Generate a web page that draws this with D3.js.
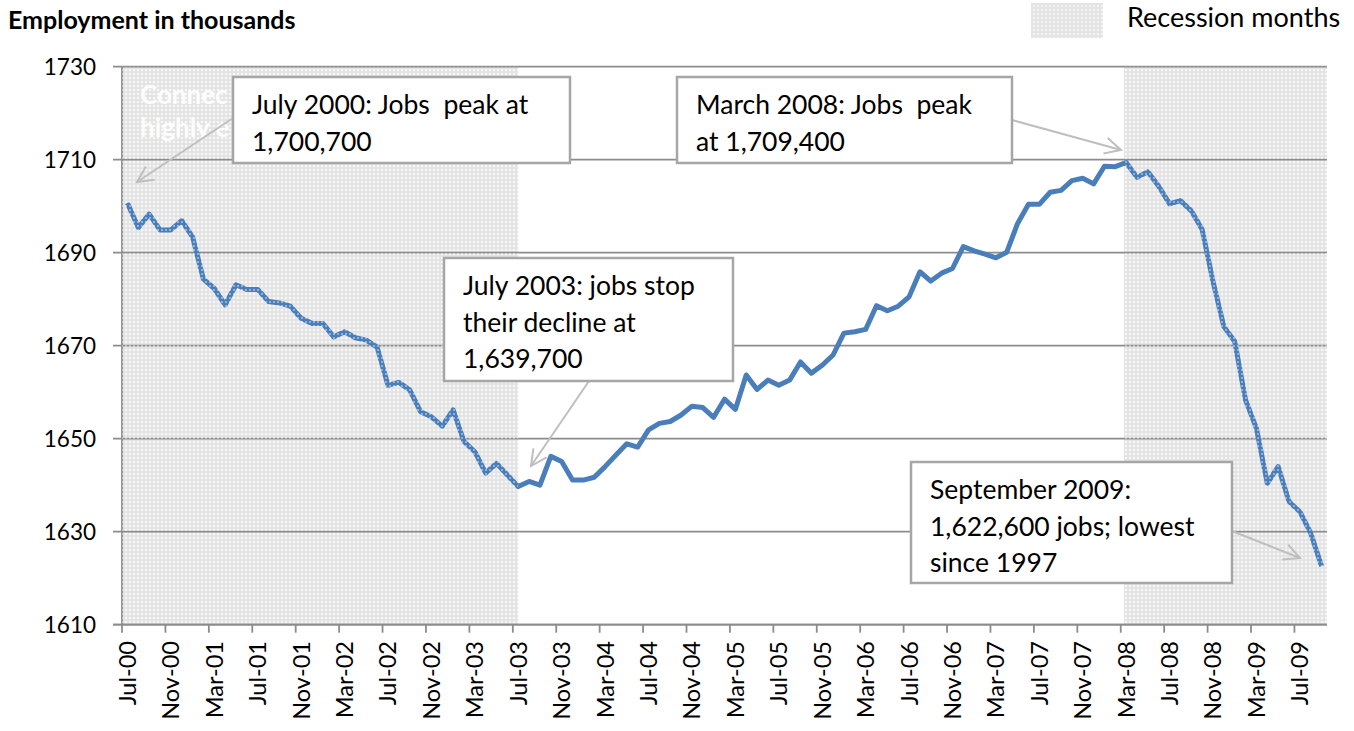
<!DOCTYPE html>
<html><head><meta charset="utf-8">
<script src="https://cdn.jsdelivr.net/npm/d3@7"></script>
<style>
html,body{margin:0;padding:0;background:#fff;}
svg{display:block;font-family:Lato,"Open Sans",sans-serif;}
</style></head>
<body>
<svg id="chart" width="1354" height="731"></svg>
<script>
// ---------- DATA ----------
const months = [
"Jul-00","Aug-00","Sep-00","Oct-00","Nov-00","Dec-00",
"Jan-01","Feb-01","Mar-01","Apr-01","May-01","Jun-01","Jul-01","Aug-01","Sep-01","Oct-01","Nov-01","Dec-01",
"Jan-02","Feb-02","Mar-02","Apr-02","May-02","Jun-02","Jul-02","Aug-02","Sep-02","Oct-02","Nov-02","Dec-02",
"Jan-03","Feb-03","Mar-03","Apr-03","May-03","Jun-03","Jul-03","Aug-03","Sep-03","Oct-03","Nov-03","Dec-03",
"Jan-04","Feb-04","Mar-04","Apr-04","May-04","Jun-04","Jul-04","Aug-04","Sep-04","Oct-04","Nov-04","Dec-04",
"Jan-05","Feb-05","Mar-05","Apr-05","May-05","Jun-05","Jul-05","Aug-05","Sep-05","Oct-05","Nov-05","Dec-05",
"Jan-06","Feb-06","Mar-06","Apr-06","May-06","Jun-06","Jul-06","Aug-06","Sep-06","Oct-06","Nov-06","Dec-06",
"Jan-07","Feb-07","Mar-07","Apr-07","May-07","Jun-07","Jul-07","Aug-07","Sep-07","Oct-07","Nov-07","Dec-07",
"Jan-08","Feb-08","Mar-08","Apr-08","May-08","Jun-08","Jul-08","Aug-08","Sep-08","Oct-08","Nov-08","Dec-08",
"Jan-09","Feb-09","Mar-09","Apr-09","May-09","Jun-09","Jul-09","Aug-09","Sep-09"];

const employment = [
1700.7,1695.4,1698.3,1694.9,1694.9,1696.9,
1693.4,1684.3,1682.3,1678.8,1683.1,1682.1,1682.1,1679.5,1679.2,1678.5,1675.9,1674.8,
1674.8,1671.9,1673.0,1671.7,1671.2,1669.7,1661.5,1662.1,1660.5,1655.8,1654.7,1652.7,
1656.2,1649.4,1647.2,1642.6,1644.7,1642.2,1639.7,1640.8,1640.0,1646.2,1645.1,1641.1,
1641.1,1641.7,1644.0,1646.5,1648.9,1648.2,1651.9,1653.3,1653.7,1655.1,1657.0,1656.7,
1654.6,1658.5,1656.3,1663.7,1660.6,1662.6,1661.5,1662.6,1666.5,1664.1,1665.8,1668.0,
1672.7,1673.0,1673.5,1678.6,1677.5,1678.5,1680.5,1685.9,1683.9,1685.6,1686.6,1691.3,
1690.4,1689.7,1688.9,1690.1,1696.3,1700.4,1700.4,1703.0,1703.4,1705.5,1706.0,1704.8,
1708.6,1708.5,1709.4,1706.2,1707.4,1704.3,1700.5,1701.2,1699.0,1695.0,1683.8,1674.1,
1670.9,1658.3,1652.2,1640.4,1644.0,1636.5,1634.3,1629.7,1622.6];

const tickLabels = ["Jul-00","Nov-00","Mar-01","Jul-01","Nov-01","Mar-02","Jul-02","Nov-02","Mar-03",
"Jul-03","Nov-03","Mar-04","Jul-04","Nov-04","Mar-05","Jul-05","Nov-05","Mar-06","Jul-06","Nov-06",
"Mar-07","Jul-07","Nov-07","Mar-08","Jul-08","Nov-08","Mar-09","Jul-09"];

const yTicks = [1610,1630,1650,1670,1690,1710,1730];

const recessions = [["Jul-00","Jul-03"],["Mar-08","Sep-09"]];

const titleText = "Employment in thousands";
const legendText = "Recession months";
const hiddenNote = ["Connec", "highly e"];

const annotations = [
  {lines:["July 2000: Jobs  peak at","1,700,700"]},
  {lines:["March 2008: Jobs  peak","at 1,709,400"]},
  {lines:["July 2003: jobs stop","their decline at","1,639,700"]},
  {lines:["September 2009:","1,622,600 jobs; lowest","since 1997"]}
];

// ---------- LAYOUT ----------
const L = 122, R = 1327, T = 66.7, B = 624.7;
const boxes = [
  {x:233,y:77,w:337,h:86, from:[233,118], to:[137,182]},
  {x:677,y:77,w:335,h:86, from:[1012,120], to:[1121,150]},
  {x:444,y:258,w:289,h:123, from:[589,381], to:[531,466]},
  {x:911,y:462,w:321,h:121, from:[1232,531], to:[1300,558]}
];

const svg = d3.select("#chart");
const x = d3.scaleBand().domain(months).range([L, R]).paddingInner(0).paddingOuter(0);
const bw = x.bandwidth();
const xc = m => x(m) + bw/2;
const y = d3.scaleLinear().domain([1610,1730]).range([B, T]);

// patterns
const defs = svg.append("defs");
const pBg = defs.append("pattern").attr("id","recBg").attr("patternUnits","userSpaceOnUse")
  .attr("width",4).attr("height",4);
pBg.append("rect").attr("width",4).attr("height",4).attr("fill","#e4e4e4");
pBg.append("rect").attr("x",1).attr("y",1).attr("width",2).attr("height",2).attr("fill","#f4f4f4");
const pDots = defs.append("pattern").attr("id","recDots").attr("patternUnits","userSpaceOnUse")
  .attr("width",4).attr("height",4);
pDots.append("rect").attr("x",1).attr("y",1).attr("width",2).attr("height",2).attr("fill","#ffffff").attr("opacity",0.4);

// recession shading ranges
const recRanges = recessions.map(([s,e]) => {
  const x0 = s === months[0] ? L : x(s) + bw*0.3;
  const x1 = e === months[months.length-1] ? R : xc(e);
  return [x0,x1];
});
svg.append("g").selectAll("rect").data(recRanges).join("rect")
  .attr("x",d=>d[0]).attr("y",T).attr("width",d=>d[1]-d[0]).attr("height",B-T)
  .attr("fill","url(#recBg)");

// partially hidden white note in shaded area
svg.append("g").selectAll("text").data(hiddenNote).join("text")
  .attr("x",140).attr("y",(d,i)=>104+i*33)
  .attr("fill","#ffffff").attr("opacity",0.9)
  .attr("font-size",26).attr("font-weight","bold").text(d=>d);

// gridlines
svg.append("g").selectAll("line").data(yTicks).join("line")
  .attr("x1",L-9).attr("x2",R).attr("y1",d=>y(d)).attr("y2",d=>y(d))
  .attr("stroke","#8c8c8c").attr("stroke-width",1.8);

// y axis line
svg.append("line").attr("x1",L).attr("x2",L).attr("y1",T).attr("y2",B)
  .attr("stroke","#8c8c8c").attr("stroke-width",1.8);

// y labels
svg.append("g").selectAll("text").data(yTicks).join("text")
  .attr("x",96).attr("y",d=>y(d)).attr("dy","0.36em").attr("text-anchor","end")
  .attr("font-size",22.5).attr("fill","#000").text(d=>d);

// x ticks
svg.append("g").selectAll("line").data(tickLabels).join("line")
  .attr("x1",d=>x(d)).attr("x2",d=>x(d)).attr("y1",B).attr("y2",B+8)
  .attr("stroke","#8c8c8c").attr("stroke-width",1.8);
svg.append("g").selectAll("text").data(tickLabels).join("text")
  .attr("transform",d=>`translate(${xc(d)},641) rotate(-90)`)
  .attr("text-anchor","end").attr("dy","0.36em")
  .attr("font-size",23.5).attr("fill","#000").text(d=>d);

// line
const lineGen = d3.line().x((d,i)=>xc(months[i])).y(d=>y(d));
svg.append("path").datum(employment).attr("d",lineGen)
  .attr("fill","none").attr("stroke","#4a7ebb").attr("stroke-width",5)
  .attr("stroke-linejoin","round");

// dot overlay on shading (over line)
svg.append("g").selectAll("rect").data(recRanges).join("rect")
  .attr("x",d=>d[0]).attr("y",T).attr("width",d=>d[1]-d[0]).attr("height",B-T)
  .attr("fill","url(#recDots)");

// x axis line
svg.append("line").attr("x1",L-9).attr("x2",R).attr("y1",B).attr("y2",B)
  .attr("stroke","#8c8c8c").attr("stroke-width",1.8);

// title
svg.append("text").attr("x",8).attr("y",29).attr("font-size",25).attr("font-weight","bold")
  .attr("fill","#000").text(titleText);

// legend
svg.append("rect").attr("x",1031).attr("y",3).attr("width",72).attr("height",35).attr("fill","url(#recBg)");
svg.append("text").attr("x",1127).attr("y",27).attr("font-size",27).attr("fill","#000").text(legendText);

// annotations
defs.append("marker").attr("id","arrow").attr("viewBox","0 0 20 20").attr("refX",18).attr("refY",10)
  .attr("markerWidth",20).attr("markerHeight",20).attr("markerUnits","userSpaceOnUse").attr("orient","auto")
  .append("path").attr("d","M2,2 L18,10 L2,18").attr("fill","none").attr("stroke","#bfbfbf").attr("stroke-width",2);

const ag = svg.append("g");
annotations.forEach((a,i)=>{
  const b = boxes[i];
  ag.append("line").attr("x1",b.from[0]).attr("y1",b.from[1]).attr("x2",b.to[0]).attr("y2",b.to[1])
    .attr("stroke","#bfbfbf").attr("stroke-width",2).attr("marker-end","url(#arrow)");
  ag.append("rect").attr("x",b.x).attr("y",b.y).attr("width",b.w).attr("height",b.h)
    .attr("fill","#fff").attr("stroke","#a6a6a6").attr("stroke-width",2.5);
  ag.append("g").selectAll("text").data(a.lines).join("text")
    .attr("x",b.x+19).attr("y",(d,j)=>b.y+37+j*36.5)
    .attr("font-size",26.5).attr("fill","#000").attr("xml:space","preserve")
    .style("white-space","pre").text(d=>d);
});
</script>
</body></html>
